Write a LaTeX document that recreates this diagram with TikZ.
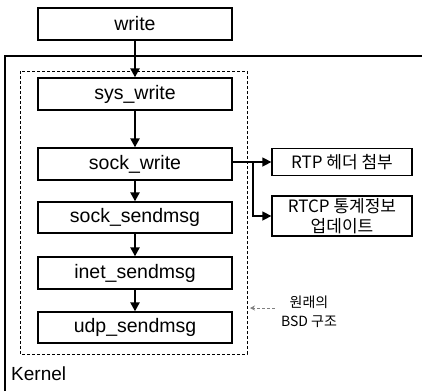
\documentclass[tikz,border=0pt]{standalone}
\usepackage{fontspec}
\setmainfont{Liberation Sans}
\newfontfamily\krfont{Noto Sans CJK KR}
\usetikzlibrary{arrows.meta}
\begin{document}
\begin{tikzpicture}[x=1pt,y=-1pt,
  fn/.style={draw,line width=1.3pt,minimum width=194pt,inner sep=0pt,font=\fontsize{19.5}{21}\selectfont},
  side/.style={draw,line width=1.3pt,minimum width=140pt,inner sep=0pt,align=center,font=\krfont\fontsize{17}{20}\selectfont},
  flow/.style={line width=2.5pt,-{Triangle[length=9pt,width=9pt]}},
  branch/.style={line width=1.5pt,-{Triangle[length=9pt,width=9pt]}},
  note/.style={dashed,line width=0.8pt,dash pattern=on 3pt off 2pt,-{Stealth[length=5pt,width=5pt]},gray}]
\useasboundingbox (0,0) rectangle (422,391);
% kernel region: only its left and top edges are visible
\draw[line width=1.4pt] (5,391) -- (5,56) -- (422,56);
\node[anchor=west,font=\fontsize{19}{20}\selectfont,inner sep=0pt] (kernel) at (11,374) {Kernel};
% original BSD part
\draw[line width=0.9pt,dash pattern=on 3pt off 2pt] (20,71) rectangle (247,354);
% call chain
\node[fn,minimum height=32pt] (write) at (135,24) {write};
\node[fn,minimum height=32pt] (syswrite) at (135,94) {sys\_write};
\node[fn,minimum height=32pt] (sockwrite) at (135,164) {sock\_write};
\node[fn,minimum height=31pt] (socksend) at (135,217.5) {sock\_sendmsg};
\node[fn,minimum height=32pt] (inetsend) at (135,273) {inet\_sendmsg};
\node[fn,minimum height=31pt] (udpsend) at (135,327.5) {udp\_sendmsg};
\draw[flow] (write) -- (syswrite);
\draw[flow] (syswrite) -- (sockwrite);
\draw[flow] (sockwrite) -- (socksend);
\draw[flow] (socksend) -- (inetsend);
\draw[flow] (inetsend) -- (udpsend);
% RTP additions
\node[side,minimum height=27pt] (rtp) at (342,162) {RTP 헤더 첨부};
\node[side,minimum height=40pt] (rtcp) at (342,216) {RTCP 통계정보\\업데이트};
\coordinate (br) at (253,162);
\draw[line width=1.5pt] (sockwrite.east |- br) -- (br);
\draw[branch] (br) -- (rtp.west);
\draw[branch] (br) |- (rtcp.west);
% annotation
\node[align=center,font=\krfont\fontsize{14}{19}\selectfont,inner sep=0pt] (bsd) at (309,312) {원래의\\BSD 구조};
\coordinate (bsdtip) at (250,308);
\draw[note] (bsd.west |- bsdtip) ++(-6,0) -- (bsdtip);
\end{tikzpicture}
\end{document}
